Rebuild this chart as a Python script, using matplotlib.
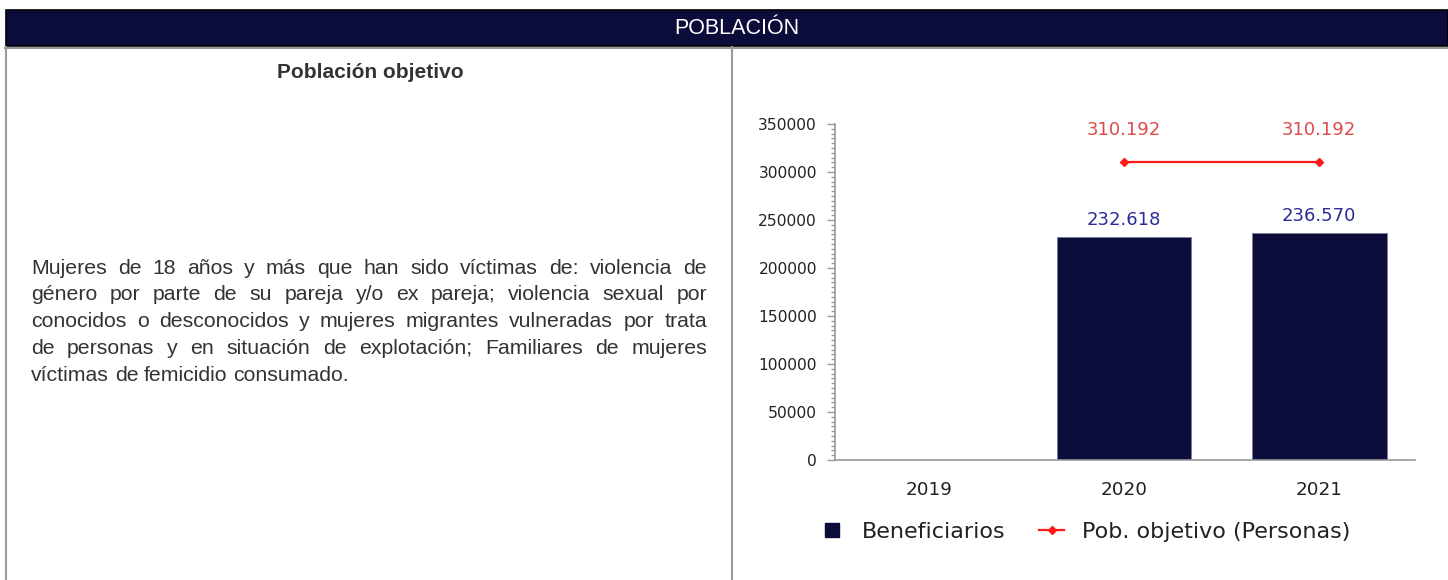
import numpy as np
import matplotlib
matplotlib.use("Agg")
import matplotlib.pyplot as plt
from matplotlib import font_manager as fm
from matplotlib.lines import Line2D
from matplotlib.patches import Rectangle
from matplotlib.ticker import MultipleLocator

# datos
years = ["2019", "2020", "2021"]
beneficiarios = [np.nan, 232618, 236570]
pob_objetivo = [np.nan, 310192, 310192]

header_text = "POBLACIÓN"
title_text = "Población objetivo"
body_lines = [
    "Mujeres de 18 años y más que han sido víctimas de: violencia de",
    "género por parte de su pareja y/o ex pareja; violencia sexual por",
    "conocidos o desconocidos y mujeres migrantes vulneradas por trata",
    "de personas y en situación de explotación; Familiares de mujeres",
    "víctimas de femicidio consumado.",
]

NAVY = "#0c0c3a"
GREY = "#999999"

W, H = 1448, 580

plt.rcParams["font.family"] = ["DejaVu Sans"]


def fx(px):
    return px / W


def fy(py):
    return 1 - py / H


def pick(names):
    for n in names:
        try:
            fm.findfont(fm.FontProperties(family=n), fallback_to_default=False)
            return n
        except Exception:
            pass
    return "DejaVu Sans"


sans = pick(["Liberation Sans", "Arial"])


def fmt(v):
    return f"{v:,.0f}".replace(",", ".")


fig = plt.figure(figsize=(W / 100, H / 100), dpi=100)

# cabecera y bordes de la tabla
fig.patches.append(Rectangle((fx(6), fy(46)), fx(W) - fx(6), fy(10) - fy(46),
                             transform=fig.transFigure, facecolor=NAVY,
                             edgecolor="black", linewidth=1.2))
fig.text(fx(737), fy(29), header_text, color="white", ha="center", va="center",
         fontsize=15.5, family=sans)
for xs, ys in [([5.5, 5.5], [47, 580]), ([732, 732], [47, 580]), ([5, W], [47.5, 47.5])]:
    fig.lines.append(Line2D([fx(x) for x in xs], [fy(y) for y in ys],
                            transform=fig.transFigure, color=GREY, linewidth=1.5))

fig.text(fx(370), fy(73), title_text, ha="center", va="center", fontsize=15,
         fontweight="bold", color="#333333", family=sans)

# texto justificado
fig.canvas.draw()
renderer = fig.canvas.get_renderer()
x0, x1 = 31, 707
y0, dy = 268, 26.8
kw = dict(fontsize=15.3, family=sans, color="#333333", va="center")
probe = fig.text(0, 0, "a a", **kw)
probe2 = fig.text(0, 0, "aa", **kw)
space_w = probe.get_window_extent(renderer).width - probe2.get_window_extent(renderer).width
probe.remove()
probe2.remove()
for i, line in enumerate(body_lines):
    words = line.split()
    texts = [fig.text(0, fy(y0 + i * dy), w, **kw) for w in words]
    widths = [t.get_window_extent(renderer).width for t in texts]
    if i == len(body_lines) - 1 or len(words) == 1:
        gap = space_w
    else:
        gap = (x1 - x0 - sum(widths)) / (len(words) - 1)
    x = x0
    for t, w in zip(texts, widths):
        t.set_x(fx(x))
        x += w + gap

# grafico
ax = fig.add_axes([fx(835), fy(460), fx(1415) - fx(835), fy(124) - fy(460)])
pos = np.arange(len(years))
ax.bar(pos, beneficiarios, width=0.69, color=NAVY, edgecolor="#7a7a9a", linewidth=0.6)
ax.plot(pos, pob_objetivo, color="#ff1a1a", linewidth=1.6, marker="D", markersize=4.5)

for p, v in zip(pos, beneficiarios):
    if not np.isnan(v):
        ax.annotate(fmt(v), (p, v), xytext=(0, 5.8), textcoords="offset points",
                    ha="center", va="bottom", fontsize=13, color="#2c2c96")
for p, v in zip(pos, pob_objetivo):
    if not np.isnan(v):
        ax.annotate(fmt(v), (p, v), xytext=(0, 16.5), textcoords="offset points",
                    ha="center", va="bottom", fontsize=13, color="#dd4a4a")

ax.set_xlim(-0.48, 2.49)
ax.set_ylim(0, 350000)
ax.yaxis.set_major_locator(MultipleLocator(50000))
ax.yaxis.set_minor_locator(MultipleLocator(5000))
ax.set_xticks(pos)
ax.set_xticklabels(years)
for s in ["top", "right"]:
    ax.spines[s].set_visible(False)
for s in ["left", "bottom"]:
    ax.spines[s].set_color(GREY)
    ax.spines[s].set_linewidth(1.2)
ax.tick_params(axis="y", which="major", length=6, color=GREY, width=1,
               labelsize=11.2, labelcolor="#222222", pad=7)
ax.tick_params(axis="y", which="minor", length=3, color=GREY, width=1)
ax.tick_params(axis="x", length=0, labelsize=13.2, labelcolor="#222222", pad=15)

handles = [
    Line2D([], [], linestyle="none", marker="s", markersize=9.5, color=NAVY),
    Line2D([], [], color="#ff1a1a", linewidth=1.6, marker="D", markersize=4),
]
fig.legend(handles, ["Beneficiarios", "Pob. objetivo (Personas)"], loc="center",
           bbox_to_anchor=(fx(1085), fy(532)), ncol=2, frameon=False,
           fontsize=16, handlelength=1.1, columnspacing=1.5, handletextpad=0.8,
           labelcolor="#222222")

fig.savefig("out.png", dpi=100)
